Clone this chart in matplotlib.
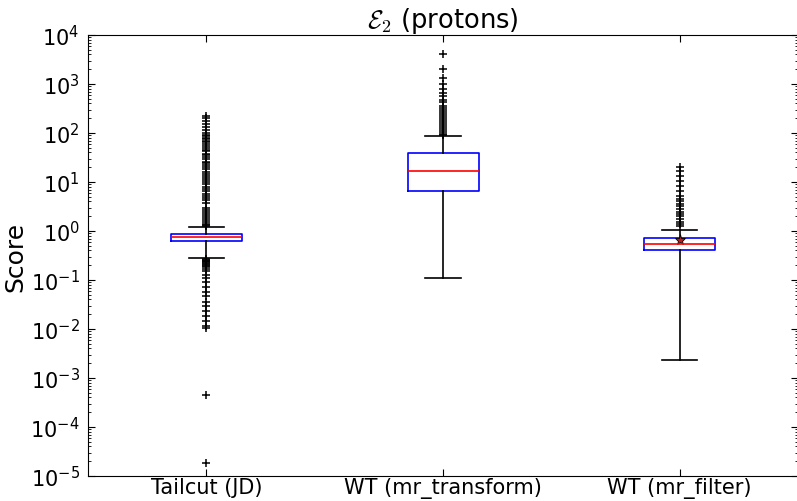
import matplotlib
matplotlib.use("Agg")
import matplotlib.pyplot as plt
from matplotlib.ticker import LogLocator, NullLocator

plt.rcParams["mathtext.fontset"] = "cm"
plt.rcParams["axes.unicode_minus"] = False
plt.rcParams["font.family"] = "DejaVu Sans"

labels = ["Tailcut (JD)", "WT (mr_transform)", "WT (mr_filter)"]
medians = [0.755, 16.5, 0.55]
q1 = [0.634, 6.64, 0.40]
q3 = [0.87, 38.5, 0.72]
whisker_low = [0.285, 0.11, 0.00236]
whisker_high = [1.19, 87.0, 1.05]

fliers_tailcut = [
    226, 200, 175, 150, 130, 115, 100, 92, 85, 80, 75, 70, 65, 60, 55, 50,
    46, 42, 38, 35, 32, 29, 26, 24, 22, 20, 18, 16, 14.5, 13, 12, 11, 10,
    9, 8, 7.2, 6.5, 5.8, 5.2, 4.7, 4.2, 3.8, 3.0, 2.7, 2.4, 2.2, 2.0, 1.8,
    1.65, 1.5, 1.4, 1.3, 1.25,
    0.27, 0.26, 0.25, 0.24, 0.23, 0.22, 0.21, 0.2, 0.19, 0.18, 0.17,
    0.153, 0.126, 0.11, 0.091, 0.072, 0.057, 0.047, 0.0356, 0.0294,
    0.0233, 0.0184, 0.0146, 0.0115, 0.0105,
    4.4e-4, 1.8e-5,
]
fliers_mr_transform = [
    4100, 2020, 1300, 1000, 790, 655, 560, 478, 423, 361,
    330, 300, 270, 245, 220, 200, 180, 165, 150, 137, 125, 115, 105, 97, 90,
]
fliers_mr_filter = [
    20, 17, 13.5, 10.6, 8.4, 6.5, 5.25, 4.5, 4.0, 3.56, 3.2, 2.81, 2.5,
    2.22, 2.0, 1.76, 1.55, 1.39, 1.28,
]
mean_mr_filter = 0.66

fliers = [fliers_tailcut, fliers_mr_transform, fliers_mr_filter]
stats = []
for i in range(3):
    stats.append(dict(label=labels[i], med=medians[i], q1=q1[i], q3=q3[i],
                      whislo=whisker_low[i], whishi=whisker_high[i],
                      fliers=fliers[i]))

fig = plt.figure(figsize=(7.97, 5.02), dpi=100)
ax = fig.add_axes([88 / 797, 25 / 502, 710 / 797, 441 / 502])

ax.bxp(stats, positions=[1, 2, 3], widths=0.3,
       boxprops=dict(color="blue", linewidth=1.2),
       medianprops=dict(color="red", linewidth=1.2),
       whiskerprops=dict(color="black", linestyle="-", linewidth=1.2),
       capprops=dict(color="black", linewidth=1.2),
       flierprops=dict(marker="+", markeredgecolor="black", markersize=6,
                       markeredgewidth=1.1, linestyle="none"))
ax.plot(3, mean_mr_filter, marker="*", markersize=8, markerfacecolor="#b22222",
        markeredgecolor="black", markeredgewidth=0.6, linestyle="none")

ax.set_yscale("log")
ax.set_ylim(1e-5, 1e4)
ax.set_xlim(0.5, 3.5)
ax.set_yticks([10.0 ** k for k in range(-5, 5)])
ax.yaxis.set_minor_locator(LogLocator(base=10, subs=range(2, 10), numticks=50))
ax.xaxis.set_minor_locator(NullLocator())
ax.set_xticks([1, 2, 3])
ax.set_xticklabels(labels)

ax.tick_params(which="both", direction="in", top=True, right=True)
ax.tick_params(which="major", length=5)
ax.tick_params(which="minor", length=2.5)
ax.tick_params(axis="y", labelsize=15, pad=6)
ax.tick_params(axis="x", labelsize=15, pad=1)

ax.set_ylabel("Score", fontsize=18, labelpad=2)
ax.set_title(r"$\mathcal{E}_2$ (protons)", fontsize=18.5, pad=6)

fig.savefig("out.png", dpi=100)
